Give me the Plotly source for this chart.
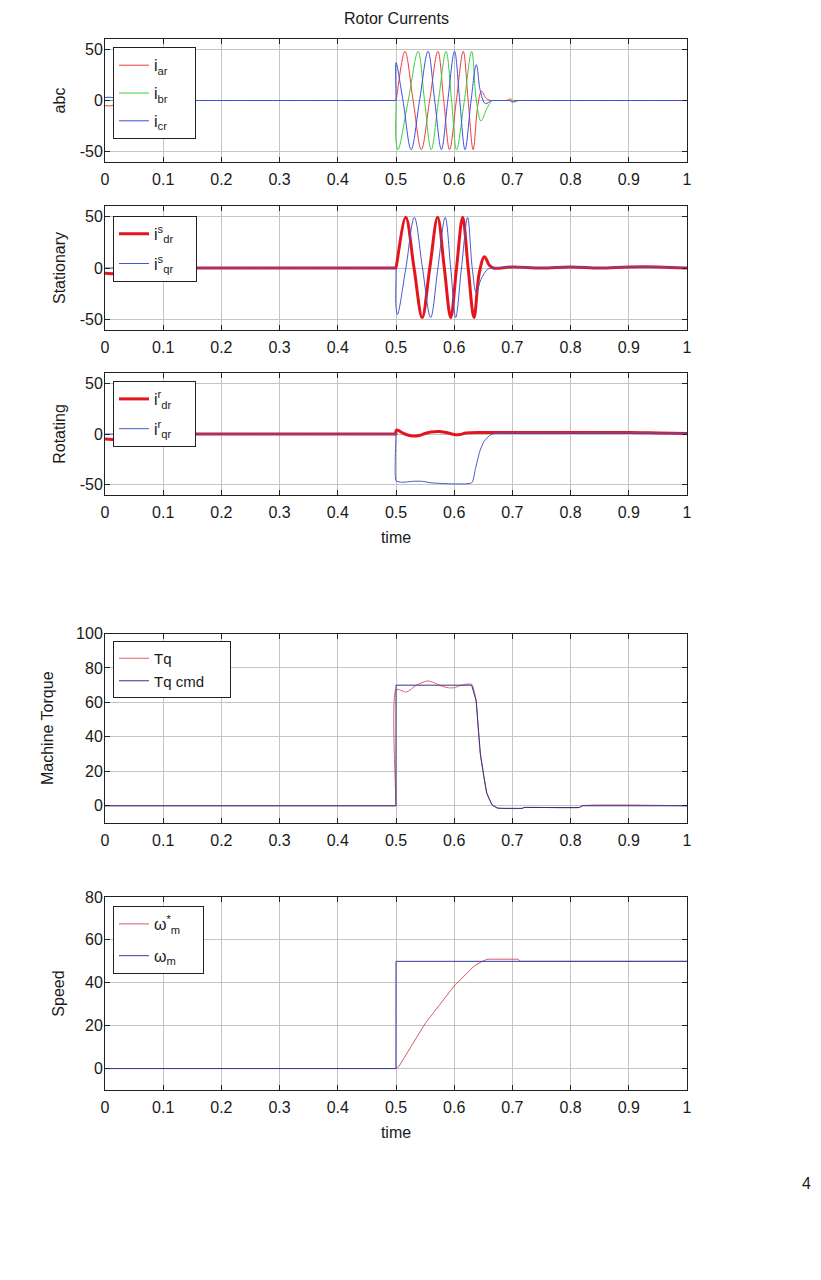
import plotly.graph_objects as go

# abc rotor currents: peaks, zero crossings and steps
# (flat stretches carry a doubled end point so the spline stays flat there)
t_ar = [0, 0.012, 0.025, 0.026, 0.4998, 0.4999, 0.5, 0.5153, 0.5294, 0.5435, 0.5578, 0.572, 0.582,
        0.592, 0.6037, 0.6155, 0.624, 0.6325, 0.6405, 0.647, 0.655, 0.663, 0.664, 0.689, 0.69, 0.697,
        0.703, 0.71, 0.711, 1.0]
i_ar = [-5, -5, 0, 0, 0, 0, 0, 48, 0, -48, 0, 48, 0, -48, 0, 48, 0, -48, -5, 9, 2, 0, 0, 0, 0, 1.5,
        -1.5, 0, 0, 0]
t_br = [0, 0.001, 0.4998, 0.4999, 0.5, 0.5035, 0.521, 0.538, 0.549, 0.5605, 0.573, 0.586, 0.5955,
        0.604, 0.6175, 0.630, 0.638, 0.646, 0.656, 0.665, 0.666, 1.0]
i_br = [0, 0, 0, 0, -40, -48, 0, 48, 0, -48, 0, 48, 0, -48, 0, 48, 0, -20, -8, 0, 0, 0]
t_cr = [0, 0.012, 0.025, 0.026, 0.4998, 0.4999, 0.5, 0.512, 0.526, 0.5405, 0.555, 0.5665, 0.578,
        0.589, 0.6005, 0.6095, 0.6186, 0.629, 0.638, 0.645, 0.6535, 0.664, 0.665, 0.694, 0.695, 0.70,
        0.705, 0.706, 1.0]
i_cr = [3, 3, 0, 0, 0, 0, 37, 0, -48, 0, 48, 0, -48, 0, 48, 0, -48, 0, 35, 9, -3, 0, 0, 0, 0, -1.5,
        0, 0, 0]

# stationary frame
t_dr_s = [0, 0.02, 0.035, 0.036, 0.4998, 0.4999, 0.5, 0.5167, 0.531, 0.545, 0.558, 0.5715, 0.583,
          0.594, 0.604, 0.6145, 0.624, 0.634, 0.643, 0.652, 0.66, 0.667, 0.70, 0.75, 0.80, 0.85,
          0.90, 0.95, 1.0]
i_dr_s = [-5, -5, 0, 0, 0, 0, 0, 49, 0, -48, 0, 49, 0, -48, 0, 49, 0, -48, -5, 11, 3, 0, 1, 0, 1, 0,
          1, 1, 0]
t_qr_s = [0, 0.001, 0.4998, 0.4999, 0.5, 0.5025, 0.517, 0.5315, 0.5455, 0.5595, 0.572, 0.5845,
          0.594, 0.6025, 0.6125, 0.623, 0.631, 0.638, 0.646, 0.658, 0.667, 0.70, 0.75, 0.80, 0.85,
          0.90, 0.95, 1.0]
i_qr_s = [0, 0, 0, 0, -38, -45, 0, 49, 0, -48, 0, 49, 0, -48, 0, 49, 0, -24, -11, -1, 0, 1, 0, 1, 0,
          1, 1, 0]

# rotating frame
t_dr_r = [0, 0.02, 0.035, 0.036, 0.4998, 0.4999, 0.5, 0.502, 0.51, 0.52, 0.53, 0.54, 0.55, 0.56,
          0.575, 0.59, 0.60, 0.61, 0.62, 0.65, 0.70, 0.80, 0.90, 0.95, 1.0]
i_dr_r = [-5, -5, 0, 0, 0, 0, 3, 4, 1.5, -1, -2, -1.5, 0.5, 2, 2.5, 1, -0.5, -0.5, 1, 1.5, 1.5, 1.5,
          1.5, 1, 0.5]
t_qr_r = [0, 0.001, 0.4998, 0.4999, 0.5, 0.51, 0.53, 0.545, 0.56, 0.63, 0.6365, 0.644, 0.651,
          0.662, 0.67, 0.70, 0.80, 0.90, 0.95, 1.0]
i_qr_r = [0, 0, 0, 0, -46, -47.5, -46.5, -46.5, -48, -48, -34, -17, -7.5, -1, 0.5, 1.5, 1.5, 1.5,
          1, 0.5]

# machine torque
t_tq = [0, 0.001, 0.4998, 0.4999, 0.5, 0.518, 0.535, 0.554, 0.565, 0.578, 0.59, 0.60, 0.612, 0.62,
        0.63, 0.6377, 0.641, 0.645, 0.651, 0.656, 0.665, 0.674, 0.681, 0.717, 0.72, 0.815, 0.82, 1.0]
tq = [0, 0, 0, 0, 67.5, 66, 70, 72.5, 71.5, 69.5, 68.5, 68.5, 70, 70.5, 70.5, 61, 46, 30, 17, 7.3,
      0.6, -1.3, -1.5, -1.5, -1, -1, 0, 0]
t_tq_cmd = [0, 0.4999, 0.5, 0.63, 0.6377, 0.641, 0.645, 0.651, 0.656, 0.665, 0.674, 0.681, 0.717,
            0.72, 0.815, 0.82, 1.0]
tq_cmd = [0, 0, 70, 70, 61, 46, 30, 17, 7.3, 0.6, -1.3, -1.5, -1.5, -1, -1, 0, 0]

# speed
t_w_ref = [0, 0.4999, 0.5, 0.505, 0.55, 0.60, 0.635, 0.645, 0.655, 0.66, 0.71, 0.713, 1.0]
w_ref = [0, 0, 0, 1, 21, 38.5, 48, 49.5, 50.8, 51, 51, 50, 50]
t_w = [0, 0.4999, 0.5, 1.0]
w = [0, 0, 50, 50]

# tick labels
current_ticks = [-50, 0, 50]
current_labels = ["-50", "0", "50"]

W, H, OFF = 821, 1280, 8  # page body margin shifts the figure by 8 px


def px_x(p):
    return (p - OFF) / W


def px_y(p):
    return 1 - (p - OFF) / H


FONT = "Liberation Sans, Arial, sans-serif"
RED, GREEN, BLUE = "#ee3b3b", "#3ccf3c", "#3b4fe0"
NB = "\u00a0"

fig = go.Figure()


def add(x, y, name, color, width, ax, leg, group, smooth=1.0):
    if smooth:
        line = dict(color=color, width=width, shape="spline", smoothing=smooth)
    else:
        line = dict(color=color, width=width, shape="linear")
    fig.add_trace(go.Scatter(x=x, y=y, name=name, mode="lines", xaxis="x" + ax, yaxis="y" + ax,
                             line=line, legend=leg, legendgroup=group))


add(t_ar, i_ar, "i<sub>ar</sub>" + NB * 5, RED, 1, "", "legend", "a")
add(t_br, i_br, "i<sub>br</sub>" + NB * 5, GREEN, 1, "", "legend", "b")
add(t_cr, i_cr, "i<sub>cr</sub>" + NB * 5, BLUE, 1, "", "legend", "c")
add(t_dr_s, i_dr_s, "i<sup>s</sup><sub>dr</sub>" + NB * 4, "#e3161e", 3, "2", "legend2", "a")
add(t_qr_s, i_qr_s, "i<sup>s</sup><sub>qr</sub>" + NB * 4, "#4a58c8", 1, "2", "legend2", "b")
add(t_dr_r, i_dr_r, "i<sup>r</sup><sub>dr</sub>" + NB * 4, "#e3161e", 3, "3", "legend3", "a")
add(t_qr_r, i_qr_r, "i<sup>r</sup><sub>qr</sub>" + NB * 4, "#4a58c8", 1, "3", "legend3", "b", 0.5)
add(t_tq, tq, "Tq", "#e0606e", 1, "4", "legend4", "a", 0.6)
add(t_tq_cmd, tq_cmd, "Tq cmd" + NB * 5, "#33338f", 1, "4", "legend4", "b", 0)
add(t_w_ref, w_ref, "ω<sup>*</sup><sub>m</sub>" + NB * 4, "#d85a68", 1, "5", "legend5", "a", 0)
add(t_w, w, "ω<sub>m</sub>" + NB * 4, "#3a3a9e", 1, "5", "legend5", "b", 0)

xdom = [px_x(105), px_x(687)]
panels = [  # (axis suffix, top px, bottom px, y range, dtick, y title, standoff)
    ("", 39, 162, [-60, 60], 50, "abc", 10),
    ("2", 206, 330, [-60, 60], 50, "Stationary", 10),
    ("3", 373, 495, [-60, 60], 50, "Rotating", 10),
    ("4", 633.5, 823, [-10, 100], 20, "Machine Torque", 18),
    ("5", 897, 1090, [-10, 80], 20, "Speed", 16),
]
axis_style = dict(showline=True, linecolor="#222", linewidth=1, mirror="ticks", ticks="inside",
                  ticklen=5, tickcolor="#222", showgrid=True, gridcolor="#c4c4c4", gridwidth=1,
                  zeroline=False, automargin=False, tickfont=dict(size=16))
layout = {}
for ax, top, bot, yr, dt, ytitle, so in panels:
    xt = "time" if ax in ("3", "5") else None
    layout["xaxis" + ax] = dict(axis_style, domain=xdom, range=[0, 1], tick0=0, dtick=0.1,
                                anchor="y" + ax, ticklabelstandoff=3,
                                title=dict(text=xt, standoff=11, font=dict(size=16)))
    yax = dict(axis_style, domain=[px_y(bot), px_y(top)], range=yr, tick0=0, dtick=dt,
               anchor="x" + ax, ticklabelstandoff=-2,
               title=dict(text=ytitle, standoff=so, font=dict(size=16)))
    if dt == 50:
        yax.update(tickmode="array", tickvals=current_ticks, ticktext=current_labels)
    layout["yaxis" + ax] = yax

leg_style = dict(xanchor="left", yanchor="top", bordercolor="#222", borderwidth=1,
                 bgcolor="white", font=dict(size=16), itemwidth=30)
layout["legend"] = dict(leg_style, x=px_x(113), y=px_y(47.3), tracegroupgap=4)
layout["legend2"] = dict(leg_style, x=px_x(113), y=px_y(215.8), tracegroupgap=6)
layout["legend3"] = dict(leg_style, x=px_x(113), y=px_y(381), tracegroupgap=6)
layout["legend4"] = dict(leg_style, x=px_x(113), y=px_y(641), tracegroupgap=0,
                         font=dict(size=15))
layout["legend5"] = dict(leg_style, x=px_x(113), y=px_y(906), tracegroupgap=8)

fig.update_layout(
    **layout,
    width=W, height=H, margin=dict(l=0, r=0, t=0, b=0),
    paper_bgcolor="white", plot_bgcolor="white",
    font=dict(family=FONT, size=16, color="#1a1a1a"),
    annotations=[
        dict(text="Rotor Currents", x=px_x(396), y=px_y(19), xref="paper", yref="paper",
             xanchor="center", yanchor="middle", showarrow=False, font=dict(size=16)),
        dict(text="4", x=px_x(806), y=px_y(1183), xref="paper", yref="paper",
             xanchor="center", yanchor="middle", showarrow=False, font=dict(size=16)),
    ],
)

fig.write_html("out.html")
